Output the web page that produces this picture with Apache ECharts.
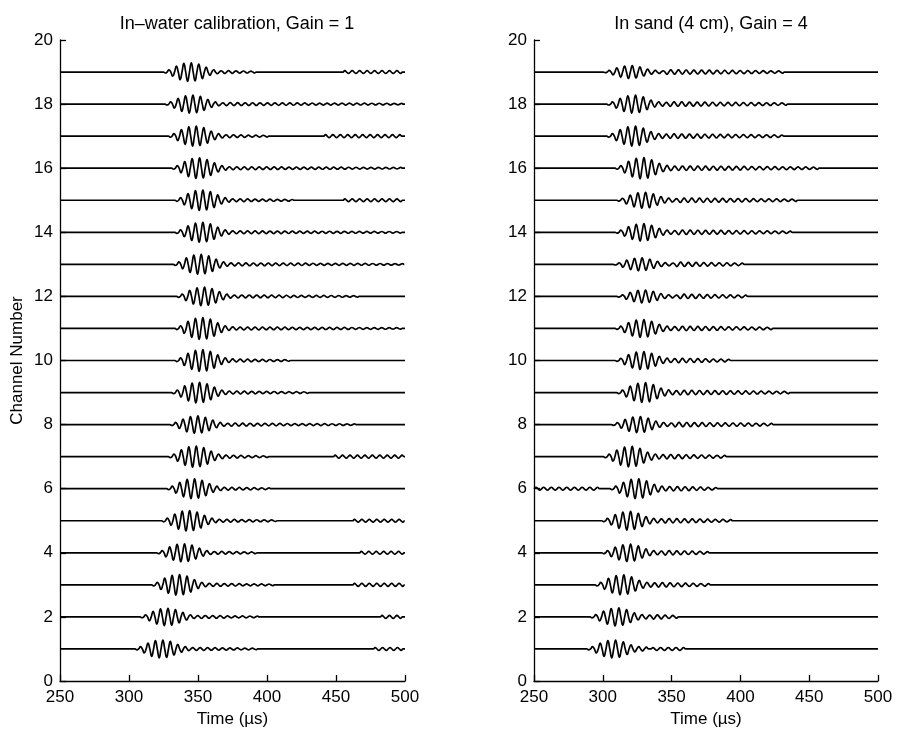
<!DOCTYPE html>
<html><head><meta charset="utf-8">
<script src="https://cdn.jsdelivr.net/npm/echarts@6/dist/echarts.min.js"></script>
<style>html,body{margin:0;padding:0;background:#fff}#c{width:897px;height:733px}</style>
</head><body><div id="c"></div><script>
// ---- data ----
const channels = [1,2,3,4,5,6,7,8,9,10,11,12,13,14,15,16,17,18,19];
const xTickValues = [250, 300, 350, 400, 450, 500];
const yTickValues = [0, 2, 4, 6, 8, 10, 12, 14, 16, 18, 20];
const panelTitles = ['In\u2013water calibration, Gain = 1', 'In sand (4 cm), Gain = 4'];
const xAxisTitle = 'Time (\u00b5s)';
const yAxisTitle = 'Channel Number';

// in-water calibration: onset time of each wave packet (µs), peak amplitude (channel units)
const waterOnset = [304.3, 308.0, 316.4, 320.0, 323.7, 327.3, 328.5, 329.7, 330.9, 333.3, 333.3, 334.5, 332.1, 333.3, 333.3, 330.9, 328.5, 326.1, 324.9];
const waterGain  = [0.28, 0.27, 0.32, 0.28, 0.32, 0.31, 0.33, 0.27, 0.32, 0.34, 0.34, 0.29, 0.31, 0.31, 0.32, 0.32, 0.31, 0.28, 0.29];
const waterCodaEnd = [395, 395, 407, 395, 409, 404, 404, 467, 432, 418, 500, 467, 500, 500, 420, 500, 404, 500, 395];
const waterExtra = [[[477,500]], [[482,500]], [[462,500]], [[467,500]], [[462,500]], [], [[448,500]], [], [], [], [], [], [], [], [[455,500]], [], [[441,500]], [], [[455,500]]];
// relative amplitude of successive half-cycles of the main packet
const waterEnvelope = [0.1, 0.25, 0.45, 0.65, 0.82, 0.93, 1.0, 1.0, 0.95, 0.85, 0.7, 0.52, 0.36, 0.25, 0.18, 0.14];
const waterHalfPeriod = 2.7;

// in sand
const sandOnset = [288.3, 290.7, 294.3, 299.2, 299.2, 305.2, 300.4, 306.4, 310.1, 308.9, 308.9, 310.1, 307.6, 308.9, 310.1, 308.9, 302.8, 302.8, 300.4];
const sandGain  = [0.28, 0.28, 0.31, 0.27, 0.29, 0.31, 0.32, 0.25, 0.31, 0.28, 0.28, 0.2, 0.2, 0.27, 0.25, 0.33, 0.31, 0.28, 0.2];
const sandCodaEnd = [322, 356, 380, 378, 395, 385, 392, 426, 438, 395, 426, 406, 405, 440, 443, 458, 434, 436, 434];
const sandExtra = [[[335,362]], [], [], [], [], [[250,300]], [], [], [], [], [], [], [], [], [], [], [], [], []];
const sandEnvelope = [0.1, 0.25, 0.45, 0.65, 0.82, 0.93, 1.0, 1.0, 0.93, 0.8, 0.62, 0.45, 0.33, 0.26, 0.22, 0.2];
const sandHalfPeriod = 2.8;

const waterCodaAmp = 0.045, sandCodaAmp = 0.07, extraAmp = 0.045;

// ---- build traces ----
function buildTrace(ch, onset, gain, env, half, codaEnd, codaAmp, extras) {
  const segs = [];
  const main = [];
  let t = onset, s = 1;
  env.forEach(e => { main.push([t, ch]); main.push([t + half / 2, ch - s * gain * e]); t += half; s = -s; });
  const n = Math.max(0, Math.floor((codaEnd - t) / half));
  for (let k = 0; k < n; k++) {
    const a = codaAmp * (1 - 0.5 * k / Math.max(1, n));
    main.push([t, ch]); main.push([t + half / 2, ch - s * a]); t += half; s = -s;
  }
  main.push([t, ch]);
  segs.push(main);
  extras.forEach(([a, b]) => {
    const seg = []; let u = a, sg = 1;
    while (u + half <= b + 0.01) { seg.push([u, ch]); seg.push([u + half / 2, ch + sg * extraAmp]); u += half; sg = -sg; }
    seg.push([u, ch]); segs.push(seg);
  });
  segs.sort((p, q) => p[0][0] - q[0][0]);
  const pts = [];
  if (segs[0][0][0] > 250) pts.push([250, ch]);
  segs.forEach(sg => sg.forEach(p => { if (p[0] <= 500 && (pts.length === 0 || p[0] > pts[pts.length - 1][0])) pts.push(p); }));
  if (pts[pts.length - 1][0] < 500) pts.push([500, ch]);
  return pts;
}

const FONT = 'Liberation Sans, Arial, Helvetica, sans-serif';
const series = [];
channels.forEach((ch, i) => {
  series.push({
    type: 'line', xAxisIndex: 0, yAxisIndex: 0, showSymbol: false, smooth: 0.5, silent: true,
    lineStyle: { color: '#000', width: 1.7 },
    data: buildTrace(ch, waterOnset[i], waterGain[i], waterEnvelope, waterHalfPeriod, waterCodaEnd[i], waterCodaAmp, waterExtra[i])
  });
  series.push({
    type: 'line', xAxisIndex: 1, yAxisIndex: 1, showSymbol: false, smooth: 0.5, silent: true,
    lineStyle: { color: '#000', width: 1.7 },
    data: buildTrace(ch, sandOnset[i], sandGain[i], sandEnvelope, sandHalfPeriod, sandCodaEnd[i], sandCodaAmp, sandExtra[i])
  });
});

function xAxisCfg(idx) {
  return {
    type: 'value', gridIndex: idx, min: xTickValues[0], max: xTickValues[xTickValues.length - 1],
    interval: xTickValues[1] - xTickValues[0],
    name: xAxisTitle, nameLocation: 'middle', nameGap: 30,
    nameTextStyle: { color: '#000', fontSize: 17, fontFamily: FONT },
    axisLine: { show: true, lineStyle: { color: '#000', width: 1.3 } },
    axisTick: { show: true, inside: true, length: 6, lineStyle: { color: '#000', width: 1.3 } },
    axisLabel: { color: '#000', fontSize: 17, fontFamily: FONT, margin: 8 },
    splitLine: { show: false }
  };
}
function yAxisCfg(idx) {
  return {
    type: 'value', gridIndex: idx, min: yTickValues[0], max: yTickValues[yTickValues.length - 1],
    interval: yTickValues[1] - yTickValues[0],
    name: idx === 0 ? yAxisTitle : '', nameLocation: 'middle', nameGap: 34,
    nameTextStyle: { color: '#000', fontSize: 17, fontFamily: FONT },
    axisLine: { show: true, lineStyle: { color: '#000', width: 1.3 } },
    axisTick: { show: true, inside: true, length: 6, lineStyle: { color: '#000', width: 1.3 } },
    axisLabel: { color: '#000', fontSize: 17, fontFamily: FONT, margin: 7 },
    splitLine: { show: false }
  };
}

const chart = echarts.init(document.getElementById('c'), null, { renderer: 'canvas' });
chart.setOption({
  animation: false,
  backgroundColor: '#fff',
  title: [
    { text: panelTitles[0], left: 232, top: 10, textAlign: 'center', textStyle: { color: '#000', fontSize: 18, fontWeight: 'normal', fontFamily: FONT } },
    { text: panelTitles[1], left: 706, top: 10, textAlign: 'center', textStyle: { color: '#000', fontSize: 18, fontWeight: 'normal', fontFamily: FONT } }
  ],
  grid: [
    { left: 60, top: 40, width: 345, height: 644 },
    { left: 534, top: 40, width: 344, height: 644 }
  ],
  xAxis: [xAxisCfg(0), xAxisCfg(1)],
  yAxis: [yAxisCfg(0), yAxisCfg(1)],
  series: series
});
</script></body></html>
